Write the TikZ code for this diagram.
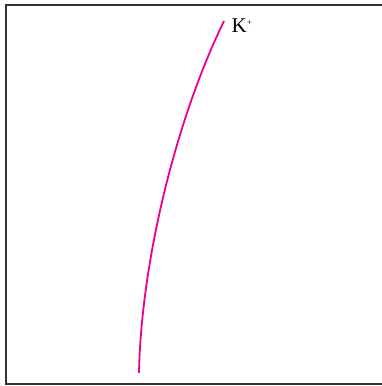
\documentclass[tikz,border=0pt]{standalone}
\usepackage{fontspec}
\setmainfont{Liberation Serif}
\definecolor{framegray}{HTML}{333333}
\definecolor{kmag}{HTML}{EC008C}
\tikzset{
  frameline/.style={draw=framegray, line width=1.8pt},
  track/.style={draw=kmag, line width=1.8pt},
  lbl/.style={font=\fontsize{21}{24}\selectfont, inner sep=0pt, anchor=base west}
}
\begin{document}
\begin{tikzpicture}[x=1pt,y=1pt]
\useasboundingbox (0,0) rectangle (381,386);
\draw[frameline] (6,2) rectangle (390,381);
\coordinate (s) at (139,13);
\coordinate (e) at (224,365);
\draw[track] (s) .. controls (141,120) and (174,262) .. (e);
\node[lbl] (k) at (231.5,353) {K\textsuperscript{\fontsize{9}{9}\selectfont +}};
\end{tikzpicture}
\end{document}
